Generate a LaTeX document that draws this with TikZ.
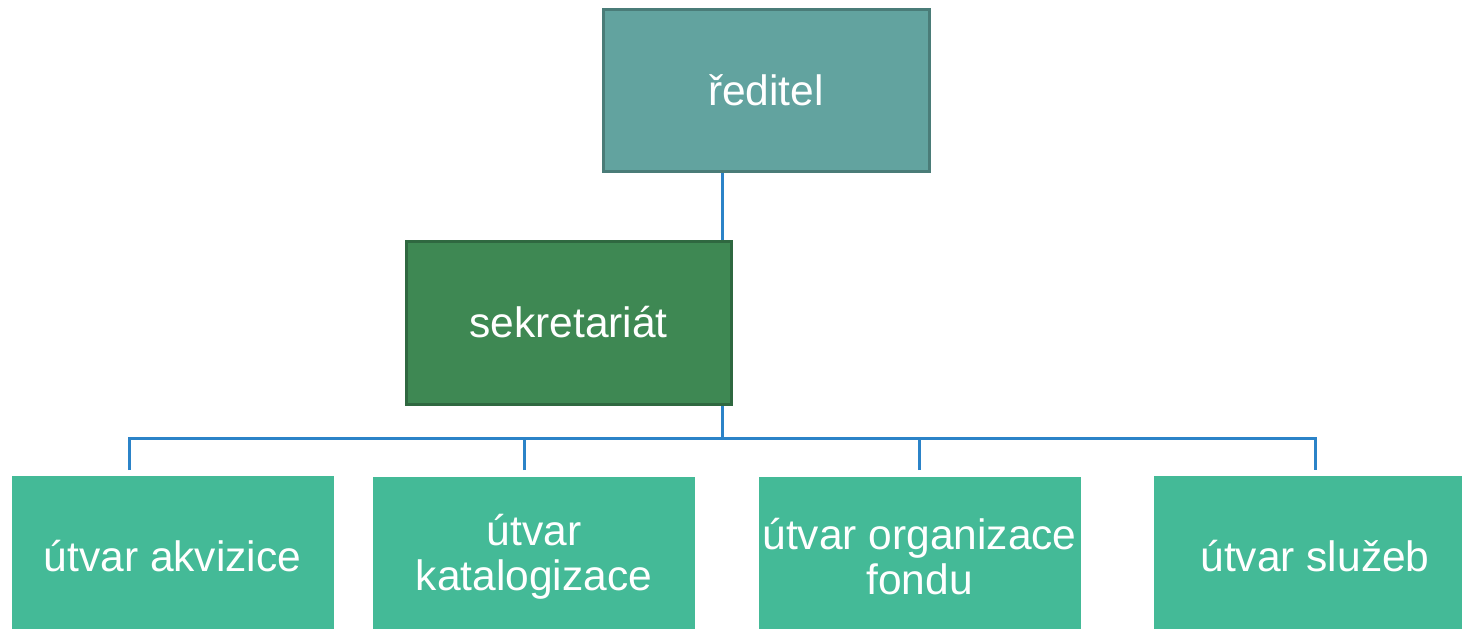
\documentclass[tikz,border=0pt]{standalone}
\usepackage{fontspec}
\setmainfont{Liberation Sans}
\definecolor{headfill}{HTML}{62A39F}
\definecolor{headline}{HTML}{4A7C78}
\definecolor{secfill}{HTML}{3E8853}
\definecolor{secline}{HTML}{2F6840}
\definecolor{unitfill}{HTML}{44BA97}
\definecolor{wire}{HTML}{2B83C8}
\tikzset{
  box/.style={rectangle, inner sep=0pt, text=white, align=center,
    font=\fontsize{42.5}{45}\selectfont},
  headbox/.style={box, fill=headfill, draw=headline, line width=3pt,
    minimum width=326pt, minimum height=162pt},
  secbox/.style={box, fill=secfill, draw=secline, line width=3pt,
    minimum width=325pt, minimum height=163pt},
  unitbox/.style={box, fill=unitfill, minimum width=322pt, minimum height=160pt},
  wireline/.style={draw=wire, line width=3pt}
}
\begin{document}
\begin{tikzpicture}[x=1pt,y=-1pt]
\useasboundingbox (0,0) rectangle (1462,629);
\fill[white] (0,0) rectangle (1462,629);

% bus and drop points
\coordinate (j)  at (722,438);
\coordinate (d1) at (129,470);
\coordinate (d2) at (524,470);
\coordinate (d3) at (919,470);
\coordinate (d4) at (1315,470);

% head node
\node[headbox] (red) at (766,90) {ředitel};

% wiring beneath the secretariat box
\draw[wireline] (red.south -| j) -- (j);
\draw[wireline] (d1) |- (j) -| (d4);
\draw[wireline] (d2) -- (d2 |- j);
\draw[wireline] (d3) -- (d3 |- j);

% secretariat
\node[secbox] (sek) at (568.5,322.5) {sekretariát};

% departments
\node[unitbox] (u1) at (172.5,556) {útvar akvizice};
\node[unitbox] (u2) at (534,557) {útvar\\katalogizace};
\node[unitbox] (u3) at (919.5,557) {útvar organizace\\fondu};
\node[unitbox] (u4) at (1315,556) {útvar služeb};
\end{tikzpicture}
\end{document}
